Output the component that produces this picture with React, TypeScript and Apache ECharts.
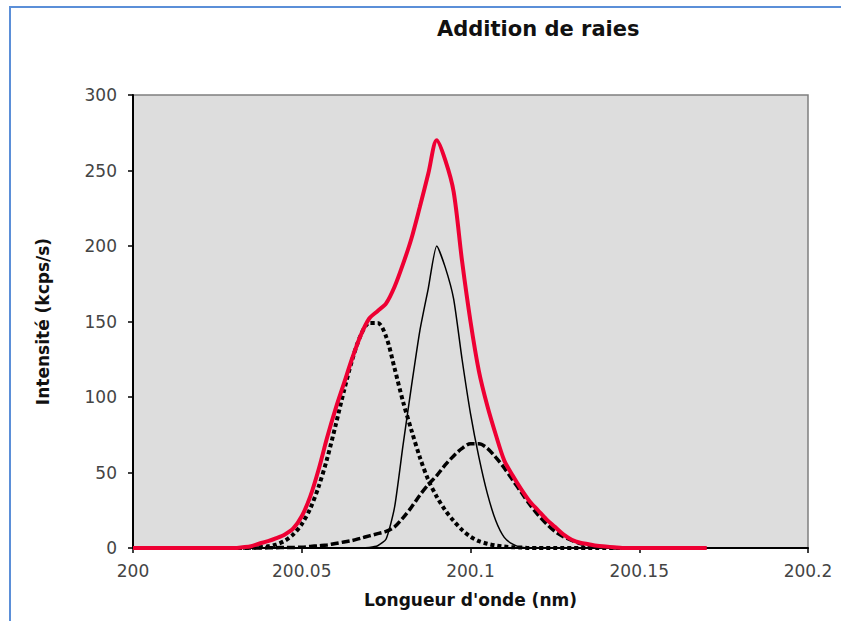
import React, { useEffect, useRef } from "react";
import * as echarts from "echarts";

// Wavelength grid (nm)
const wavelengths = [
  200.0, 200.0025, 200.005, 200.0075, 200.01, 200.0125, 200.015, 200.0175, 200.02, 200.0225,
  200.025, 200.0275, 200.03, 200.0325, 200.035, 200.0375, 200.04, 200.0425, 200.045, 200.0475,
  200.05, 200.0525, 200.055, 200.0575, 200.06, 200.0625, 200.065, 200.0675, 200.07, 200.0725,
  200.075, 200.0775, 200.08, 200.0825, 200.085, 200.0875, 200.09, 200.0925, 200.095, 200.0975,
  200.1, 200.1025, 200.105, 200.1075, 200.11, 200.1125, 200.115, 200.1175, 200.12, 200.1225,
  200.125, 200.1275, 200.13, 200.1325, 200.135, 200.1375, 200.14, 200.1425, 200.145, 200.1475,
  200.15, 200.1525, 200.155, 200.1575, 200.16, 200.1625, 200.165, 200.1675, 200.17,
];

// Line 1 (dotted, peak ~150 at 200.07)
const raie1 = [
  0, 0, 0, 0, 0, 0, 0, 0, 0, 0, 0, 0, 0, 0,
  0.2, 0.5, 1.1, 2.4, 4.8, 9, 15.8, 26, 40.6, 59, 81, 104, 125, 141, 149, 149,
  140, 119, 97, 78, 60, 45, 34, 25, 18, 12, 7.5, 4.5, 2.8, 1.7, 1, 0.5, 0.3,
  0, 0, 0, 0, 0, 0, 0, 0, 0, 0, 0, 0, 0, 0, 0, 0, 0, 0, 0, 0, 0, 0,
];

// Line 2 (thin solid, peak ~200 at 200.09)
const raie2 = [
  0, 0, 0, 0, 0, 0, 0, 0, 0, 0, 0, 0, 0, 0, 0, 0, 0, 0, 0, 0, 0, 0, 0, 0, 0, 0, 0, 0,
  0.3, 1.5, 6, 27, 68, 107, 144, 172, 200, 186, 165, 125, 89, 60, 36, 18, 7, 2.5, 0.5,
  0, 0, 0, 0, 0, 0, 0, 0, 0, 0, 0, 0, 0, 0, 0, 0, 0, 0, 0, 0, 0, 0,
];

// Line 3 (dashed, peak ~69 at 200.10)
const raie3 = [
  0, 0, 0, 0, 0, 0, 0, 0, 0, 0, 0, 0, 0, 0, 0, 0,
  0.1, 0.2, 0.3, 0.4, 0.5, 1, 1.5, 2, 3, 4, 5, 6.5, 8, 9.5, 11, 14, 20, 27, 35, 42,
  48, 55, 61, 66, 69, 69, 66, 60, 53, 45, 37, 29, 22, 16, 11, 7.5, 5, 3, 2, 1, 0.5,
  0, 0, 0, 0, 0, 0, 0, 0, 0, 0, 0, 0,
];

// Sum of lines (red)
const somme = [
  0, 0, 0, 0, 0, 0, 0, 0, 0, 0, 0, 0, 0,
  0.5, 1.2, 3, 4.5, 6.5, 9, 13, 21, 34, 52, 73, 92, 109, 126, 141, 152, 157, 162,
  173, 188, 205, 226, 248, 270, 257, 236, 190, 150, 117, 94, 75, 58, 48, 39, 31,
  25, 19, 14, 9, 5.5, 3.5, 2.5, 1.5, 1, 0.5,
  0, 0, 0, 0, 0, 0, 0, 0, 0, 0, 0,
];

const xTicks = { min: 200, max: 200.2, interval: 0.05 };
const yTicks = { min: 0, max: 300, interval: 50 };

const pair = (ys: number[]) => wavelengths.map((x, i) => [x, ys[i]]);

export default function App() {
  const ref = useRef<HTMLDivElement>(null);
  useEffect(() => {
    if (!ref.current) return;
    const chart = echarts.init(ref.current, undefined, { renderer: "svg" });
    const labelFont = { fontFamily: "DejaVu Sans", fontSize: 17, color: "#444" };
    chart.setOption({
      animation: false,
      backgroundColor: "#ffffff",
      title: {
        text: "Addition de raies",
        left: 437,
        top: 18,
        padding: 0,
        textStyle: { fontFamily: "DejaVu Sans", fontWeight: "bold", fontSize: 21, color: "#111" },
      },
      graphic: [
        {
          type: "rect",
          shape: { x: 10, y: 7, width: 900, height: 700 },
          style: { fill: "none", stroke: "#5b8fd8", lineWidth: 2 },
          silent: true,
        },
      ],
      grid: {
        left: 133,
        right: 33,
        top: 95,
        bottom: 73,
        show: true,
        backgroundColor: "#dddddd",
        borderColor: "#7f7f7f",
        borderWidth: 1.5,
      },
      xAxis: {
        type: "value",
        min: xTicks.min,
        max: xTicks.max,
        interval: xTicks.interval,
        name: "Longueur d'onde (nm)",
        nameLocation: "middle",
        nameGap: 43,
        nameTextStyle: { fontFamily: "DejaVu Sans", fontWeight: "bold", fontSize: 17, color: "#111" },
        axisLine: { show: true, onZero: false, lineStyle: { color: "#000", width: 2 } },
        axisTick: { show: true, length: 5, lineStyle: { color: "#000", width: 1.5 } },
        axisLabel: {
          ...labelFont,
          margin: 14,
          formatter: (v: number) => String(parseFloat(v.toFixed(3))),
        },
        splitLine: { show: false },
      },
      yAxis: {
        type: "value",
        min: yTicks.min,
        max: yTicks.max,
        interval: yTicks.interval,
        name: "Intensité (kcps/s)",
        nameLocation: "middle",
        nameRotate: 90,
        nameGap: 82,
        nameTextStyle: { fontFamily: "DejaVu Sans", fontWeight: "bold", fontSize: 17, color: "#111" },
        axisLine: { show: true, lineStyle: { color: "#000", width: 2 } },
        axisTick: { show: true, length: 5, lineStyle: { color: "#000", width: 1.5 } },
        axisLabel: { ...labelFont, margin: 16 },
        splitLine: { show: false },
      },
      series: [
        {
          type: "line",
          name: "Raie 1",
          data: pair(raie1),
          showSymbol: false,
          clip: false,
          smooth: 0.3,
          lineStyle: { color: "#000", width: 4, type: [4, 3], cap: "butt" },
        },
        {
          type: "line",
          name: "Raie 2",
          data: pair(raie2),
          showSymbol: false,
          clip: false,
          smooth: 0.2,
          lineStyle: { color: "#000", width: 1.5, type: "solid" },
        },
        {
          type: "line",
          name: "Raie 3",
          data: pair(raie3),
          showSymbol: false,
          clip: false,
          smooth: 0.3,
          lineStyle: { color: "#000", width: 3.5, type: [8, 3], cap: "butt" },
        },
        {
          type: "line",
          name: "Somme",
          data: pair(somme),
          showSymbol: false,
          clip: false,
          smooth: 0.3,
          lineStyle: { color: "#ee0033", width: 4 },
        },
      ],
    });
    return () => chart.dispose();
  }, []);
  return (
    <div
      ref={ref}
      style={{ position: "fixed", left: 0, top: 0, width: 841, height: 621 }}
    />
  );
}
